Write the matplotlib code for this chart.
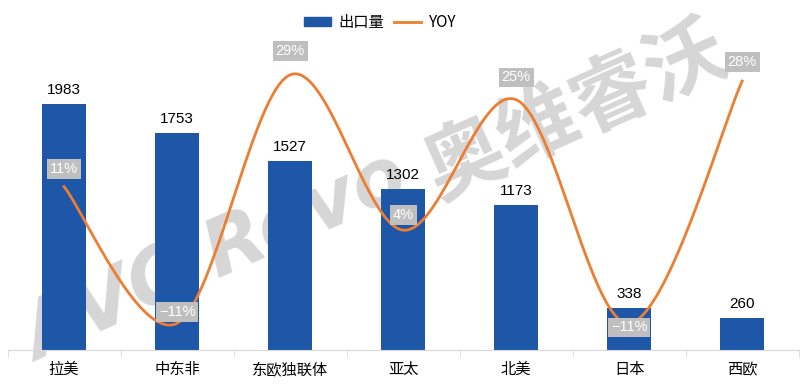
import numpy as np
import matplotlib
matplotlib.use("Agg")
import matplotlib.pyplot as plt
from matplotlib.lines import Line2D
from matplotlib.patches import Patch

plt.rcParams['font.family'] = ['Noto Sans CJK SC', 'DejaVu Sans']
NUMFONT = ['Liberation Sans', 'Noto Sans CJK SC']

categories = ['拉美', '中东非', '东欧独联体', '亚太', '北美', '日本', '西欧']
exports = [1983, 1753, 1527, 1302, 1173, 338, 260]
yoy = [11, -11, 29, 4, 25, -11, 28]
yoy_labels = ['11%', '−11%', '29%', '4%', '25%', '−11%', '28%']

# label vertical offsets (points) for YOY boxes
yoy_offsets = [13, 8, 17, 11, 16, -3, 14]

BLUE = '#1E56A8'
ORANGE = '#ED7D31'
GRAY = '#BFBFBF'

fig = plt.figure(figsize=(8, 3.85), dpi=100)
ax = fig.add_axes([0.0094, 0.0909, 0.989, 0.805])

x = np.arange(len(categories))

# watermark (behind everything)
fig.text(0.27, 0.33, 'AVC Revo', fontsize=56, color='#d6d6d6', rotation=24,
         ha='center', va='center', style='italic', fontweight='bold',
         family=['DejaVu Sans'], zorder=0)
fig.text(0.72, 0.71, '奥维睿沃', fontsize=58, color='#d6d6d6', rotation=24,
         ha='center', va='center', fontweight='bold', zorder=0)
ax.set_zorder(1)
ax.patch.set_alpha(0)

bars = ax.bar(x, exports, width=0.39, color=BLUE, zorder=2)
for xi, v in zip(x, exports):
    ax.annotate(str(v), (xi, v), xytext=(0, 5), textcoords='offset points',
                ha='center', va='bottom', fontsize=11, color='black', family=NUMFONT)

ax.set_xlim(-0.5, len(categories) - 0.5)
ax.set_ylim(0, 2500)
ax.set_xticks(x)
ax.set_xticklabels(categories, fontsize=11)
ax.set_xticks(np.arange(-0.5, len(categories)), minor=True)
ax.tick_params(axis='x', which='major', length=0, pad=8)
ax.tick_params(axis='x', which='minor', length=5, color='#d9d9d9')
ax.set_yticks([])
for s in ['top', 'right', 'left']:
    ax.spines[s].set_visible(False)
ax.spines['bottom'].set_color('#d9d9d9')

ax2 = ax.twinx()
ax2.set_ylim(-15.3, 34.6)
ax2.set_yticks([])
for s in ax2.spines.values():
    s.set_visible(False)

# smooth curve (Bezier smoothing like Excel)
P = np.column_stack([x.astype(float), np.array(yoy, dtype=float)])
curve = []
n = len(P)
for i in range(n - 1):
    p0 = P[i - 1] if i > 0 else P[i]
    p1 = P[i]
    p2 = P[i + 1]
    p3 = P[i + 2] if i + 2 < n else P[i + 1]
    c1 = p1 + (p2 - p0) / 6
    c2 = p2 - (p3 - p1) / 6
    t = np.linspace(0, 1, 60)[:, None]
    seg = (1 - t) ** 3 * p1 + 3 * (1 - t) ** 2 * t * c1 + 3 * (1 - t) * t ** 2 * c2 + t ** 3 * p2
    curve.append(seg if i == 0 else seg[1:])
curve = np.vstack(curve)
ax2.plot(curve[:, 0], curve[:, 1], color=ORANGE, lw=2, zorder=3)

for xi, v, lab, off in zip(x, yoy, yoy_labels, yoy_offsets):
    ax2.annotate(lab, (xi, v), xytext=(0, off), textcoords='offset points',
                 ha='center', va='center', fontsize=10.5, color='white', family=NUMFONT,
                 bbox=dict(boxstyle='square,pad=0.2', fc=GRAY, ec='none'), zorder=4)

handles = [Patch(color=BLUE), Line2D([0], [0], color=ORANGE, lw=2)]
fig.legend(handles, ['出口量', 'YOY'], loc='upper center', bbox_to_anchor=(0.475, 1.0),
           ncol=2, frameon=False, fontsize=11, handlelength=1.8, handleheight=0.6,
           columnspacing=0.6, handletextpad=0.5)

fig.savefig('out.png', dpi=100)
